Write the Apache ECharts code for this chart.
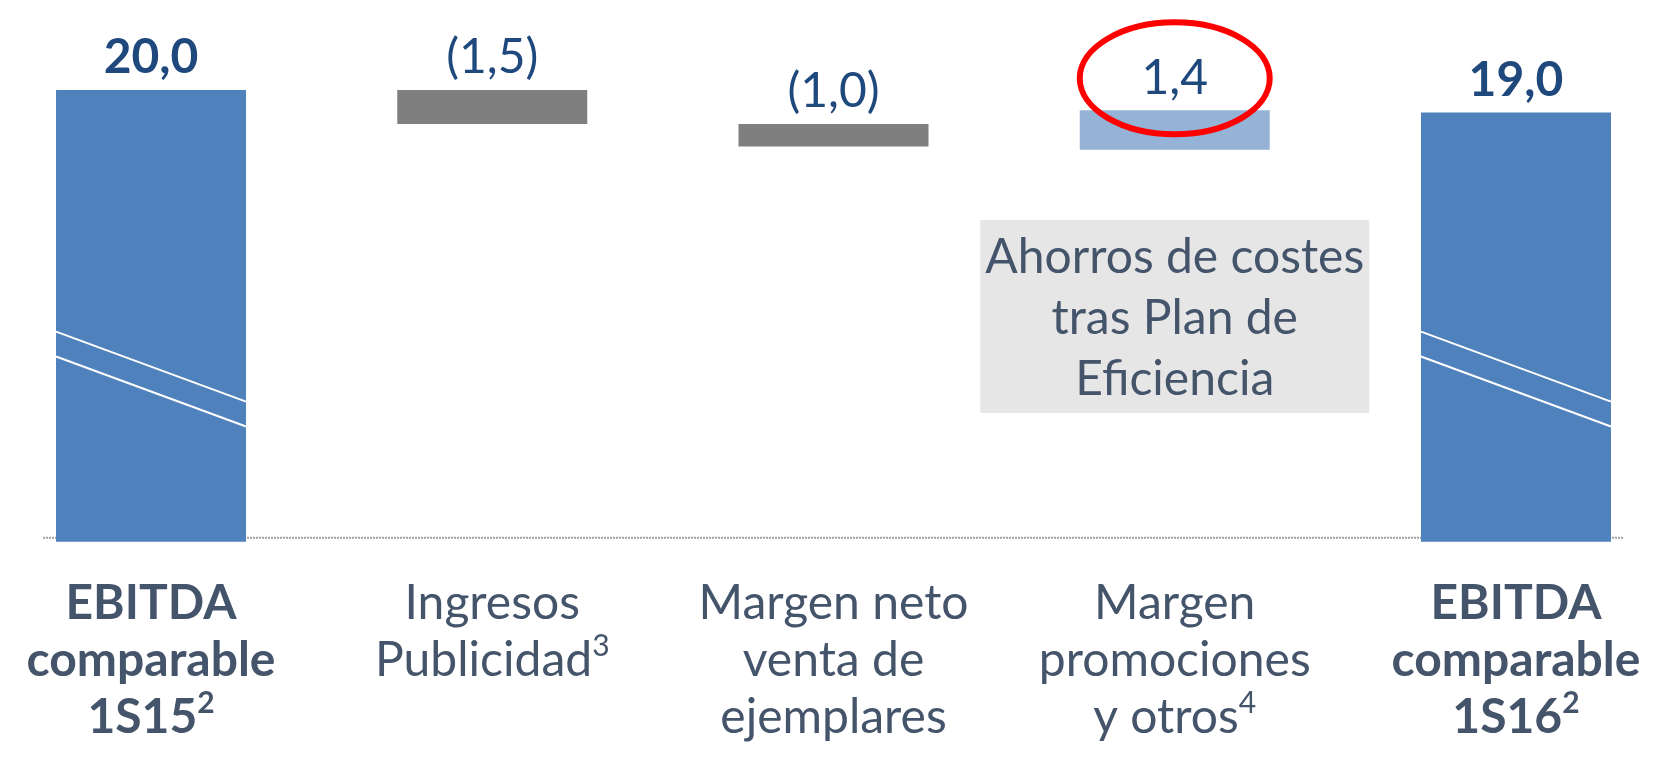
<!DOCTYPE html>
<html>
<head>
<meta charset="utf-8">
<script src="https://cdn.jsdelivr.net/npm/echarts@6/dist/echarts.min.js"></script>
<style>
    html, body {margin: 0; padding: 0; background: #fff;}
    #main {width: 1656px; height: 760px;}
</style>
</head>
<body>
<div id="main"></div>
<script>
const categories = ['EBITDA\ncomparable\n1S15', 'Ingresos\nPublicidad', 'Margen neto\nventa de\nejemplares', 'Margen\npromociones\ny otros', 'EBITDA\ncomparable\n1S16']
const footnotes = ['2', '3', '', '4', '2']
const boldCategory = [true, false, false, false, true]
// waterfall: invisible base + visible part
const baseValues = [0, 18.5, 17.5, 17.35, 0]
const barValues = [20, 1.5, 1.0, 1.75, 19]
const valueLabels = ['20,0', '(1,5)', '(1,0)', '1,4', '19,0']
const barColors = ['#4F81BD', '#7F7F7F', '#7F7F7F', '#95B3D7', '#4F81BD']
// axis break marks on the two total bars (value at left edge, value at right edge)
const breakMarks = [[9.3, 6.2], [8.2, 5.1]]
const noteLines = ['Ahorros de costes', 'tras Plan de', 'Eficiencia']

const font = 'Lato'
const labelColor = '#44546A'
const valueColor = '#1F497D'

function categoryLabel(value, idx) {
    let st = boldCategory[idx] ? 'b' : 'n'
    let lines = value.split('\n').map(l => '{' + st + '|' + l + '}')
    if (footnotes[idx]) {
        lines[lines.length - 1] += '{' + st + 's|' + footnotes[idx] + '}'
    }
    return lines.join('\n')
}

const chart = echarts.init(document.getElementById('main'))

chart.setOption({
    animation: false,
    grid: {left: -19.6, right: -30.6, top: 90, bottom: 218.3, containLabel: false, outerBoundsMode: 'none'},
    xAxis: {
        type: 'category',
        data: categories,
        axisLine: {show: false},
        axisTick: {show: false},
        axisLabel: {
            interval: 0,
            margin: 33,
            formatter: categoryLabel,
            rich: {
                n: {fontFamily: font, fontSize: 48, lineHeight: 57, color: labelColor},
                b: {fontFamily: font, fontSize: 48, lineHeight: 57, color: labelColor, fontWeight: 'bold'},
                ns: {fontFamily: font, fontSize: 30, lineHeight: 40, color: labelColor, verticalAlign: 'top'},
                bs: {fontFamily: font, fontSize: 30, lineHeight: 40, color: labelColor, fontWeight: 'bold', verticalAlign: 'top'}
            }
        }
    },
    yAxis: {
        type: 'value',
        min: 0,
        max: 20,
        show: false,
        splitLine: {show: false}
    },
    series: [
        {
            type: 'bar',
            stack: 'w',
            barWidth: 190,
            itemStyle: {color: 'transparent'},
            silent: true,
            data: baseValues
        },
        {
            type: 'bar',
            stack: 'w',
            barWidth: 190,
            data: barValues.map((v, i) => ({
                value: v,
                itemStyle: {color: barColors[i]},
                label: {fontWeight: boldCategory[i] ? 'bold' : 'normal'}
            })),
            label: {
                show: true,
                position: 'top',
                distance: 8,
                fontFamily: font,
                fontSize: 48,
                lineHeight: 48,
                color: valueColor,
                formatter: p => valueLabels[p.dataIndex]
            }
        }
    ]
})

// decorations placed from the axes
const px = (i, v) => chart.convertToPixel({gridIndex: 0}, [i, v])
const zero0 = px(0, 0)
const zero4 = px(barValues.length - 1, 0)
let graphics = []

graphics.push({
    type: 'line',
    z: 0,
    shape: {x1: zero0[0] - 108, y1: zero0[1] - 4, x2: zero4[0] + 108, y2: zero0[1] - 4},
    style: {stroke: '#A0A0A0', lineWidth: 2, lineDash: [2, 1]}
})

for (let i of [0, barValues.length - 1]) {
    for (let m of breakMarks) {
        let a = px(i, m[0])
        let b = px(i, m[1])
        graphics.push({
            type: 'line',
            z: 100,
            shape: {x1: a[0] - 95, y1: a[1], x2: b[0] + 95, y2: b[1]},
            style: {stroke: '#fff', lineWidth: 2}
        })
    }
}

// red highlight round the 1,4 label
const top3 = px(3, baseValues[3] + barValues[3])
graphics.push({
    type: 'ellipse',
    z: 100,
    shape: {cx: top3[0], cy: top3[1] - 32, rx: 95, ry: 56},
    style: {fill: 'none', stroke: '#FF0000', lineWidth: 6}
})

// note box
graphics.push({
    type: 'rect',
    z: 50,
    shape: {x: top3[0] - 194.5, y: 220, width: 389, height: 193},
    style: {fill: '#E7E6E6'}
})
graphics.push({
    type: 'text',
    z: 60,
    x: top3[0],
    y: 227,
    style: {
        text: noteLines.join('\n'),
        fontFamily: font,
        fontSize: 48,
        lineHeight: 61,
        fill: labelColor,
        align: 'center',
        verticalAlign: 'top'
    }
})

chart.setOption({graphic: graphics})
</script>
</body>
</html>
